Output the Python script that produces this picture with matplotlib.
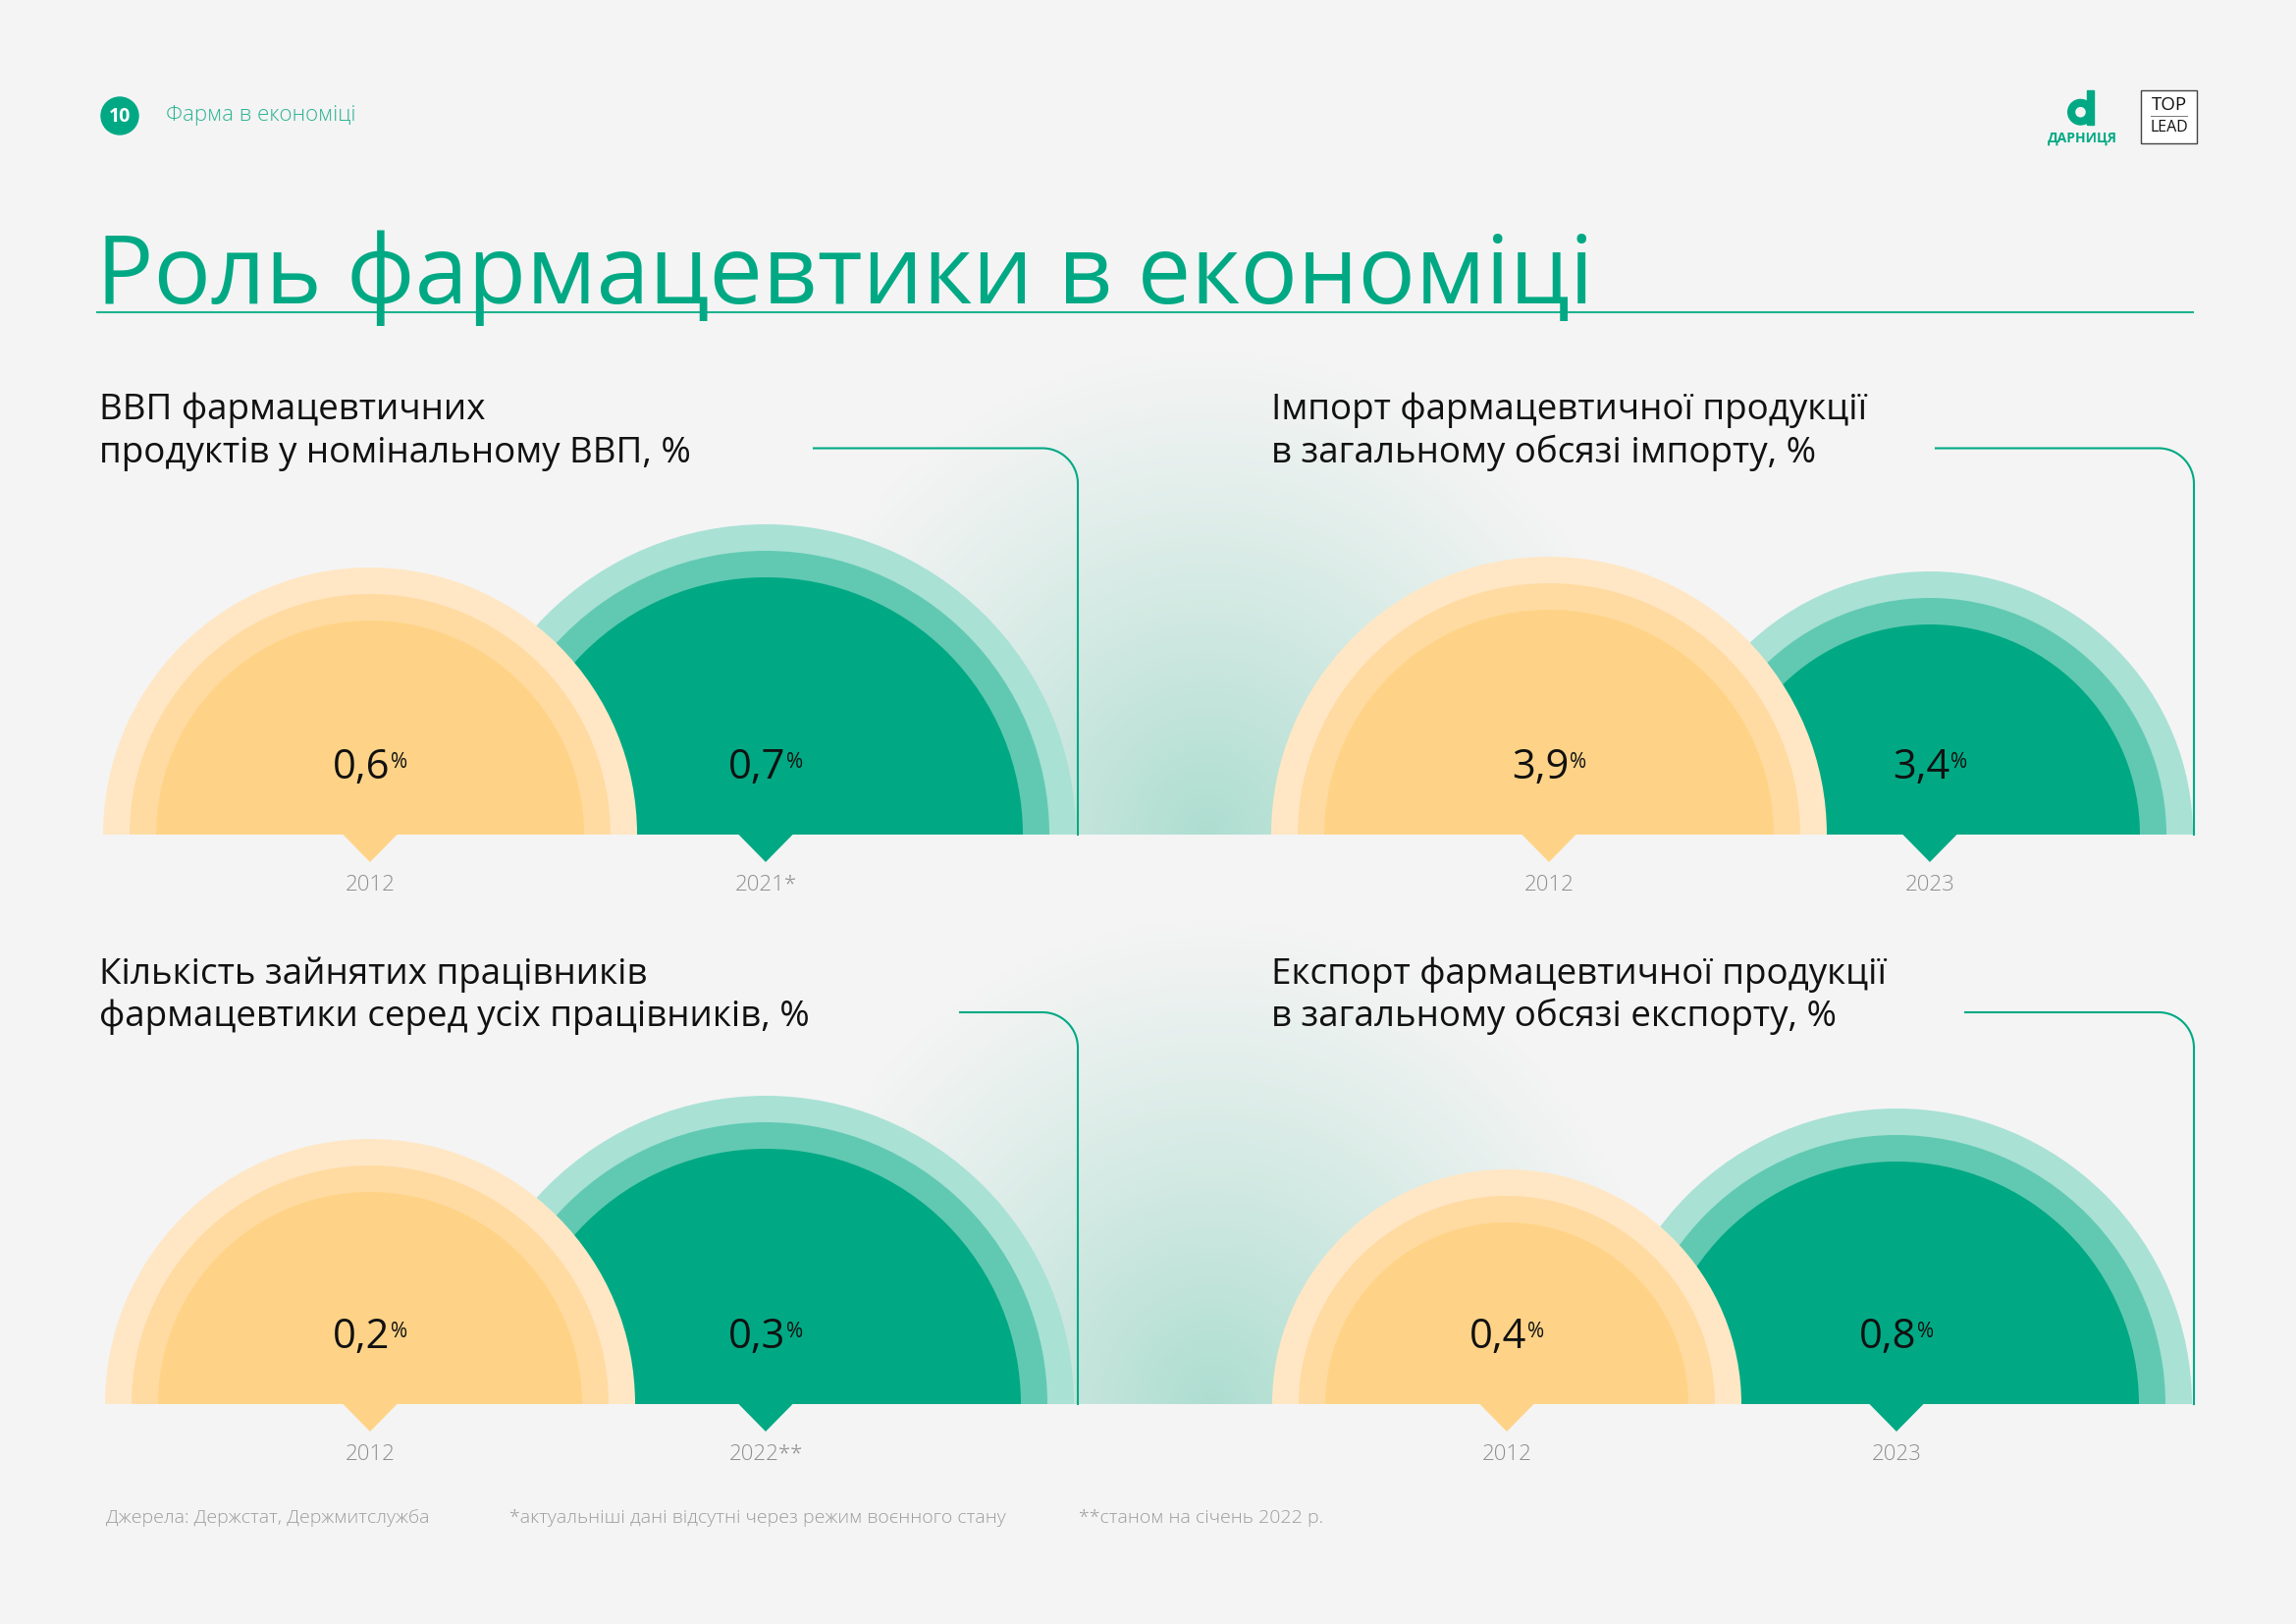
import numpy as np
import matplotlib
matplotlib.use("Agg")
import matplotlib.pyplot as plt
from matplotlib.patches import Wedge, Polygon, Circle, Rectangle

# ---------------- data ----------------
page_number = "10"
section_label = "Фарма в економіці"
main_title = "Роль фармацевтики в економіці"
panel_titles = [
    ["ВВП фармацевтичних", "продуктів у номінальному ВВП, %"],
    ["Імпорт фармацевтичної продукції", "в загальному обсязі імпорту, %"],
    ["Кількість зайнятих працівників", "фармацевтики серед усіх працівників, %"],
    ["Експорт фармацевтичної продукції", "в загальному обсязі експорту, %"],
]
years = [["2012", "2021*"], ["2012", "2023"], ["2012", "2022**"], ["2012", "2023"]]
values = [[0.6, 0.7], [3.9, 3.4], [0.2, 0.3], [0.4, 0.8]]
footnotes = ["Джерела: Держстат, Держмитслужба",
             "*актуальніші дані відсутні через режим воєнного стану",
             "**станом на січень 2022 р."]
brand_name = "ДАРНИЦЯ"
partner = ["TOP", "LEAD"]

# ---------------- layout / style ----------------
W, H = 2339, 1654
BG = "#F4F4F4"
GREEN = "#00A984"
YELLOWS = ["#FFE7C5", "#FFDBA2", "#FFD387"]   # outer, middle, inner
GREENS = ["#A9E1D5", "#61C9B2", "#00A984"]
RING = 27
FONT = ["Open Sans", "DejaVu Sans"]

panels = [
    dict(base=850, cx=(377, 780), r=(272, 316), tx=101, tb=427, fx0=829, fx1=1098, fy=456.5),
    dict(base=850, cx=(1578, 1966), r=(283, 268), tx=1295, tb=427, fx0=1972, fx1=2235, fy=456.5),
    dict(base=1430, cx=(377, 780), r=(270, 314), tx=101, tb=1002, fx0=978, fx1=1098, fy=1031),
    dict(base=1430, cx=(1535, 1932), r=(239, 301), tx=1295, tb=1002, fx0=2002, fx1=2235, fy=1031),
]
glows = [(1230, 850), (1235, 1430)]

plt.rcParams['font.family'] = FONT

fig = plt.figure(figsize=(W / 100, H / 100), dpi=100, facecolor=BG)
ax = fig.add_axes([0, 0, 1, 1])
ax.set_facecolor(BG)
ax.axis('off')
ax.set_xlim(0, W)
ax.set_ylim(H, 0)

# soft glow
glow_rgb = np.array([0.55, 0.83, 0.75])
for gx, gy in glows:
    rx, ry = 470, 500
    xs = np.linspace(gx - rx, gx + rx, 300)
    ys = np.linspace(gy - ry, gy, 200)
    X, Y = np.meshgrid(xs, ys)
    d = np.sqrt(((X - gx) / rx) ** 2 + ((Y - gy) / ry) ** 2)
    a = np.clip(1 - d, 0, 1) ** 1.15 * 0.68
    img = np.zeros(X.shape + (4,))
    img[..., :3] = glow_rgb
    img[..., 3] = a
    ax.imshow(img, extent=(gx - rx, gx + rx, gy, gy - ry), origin='upper',
              interpolation='bilinear', zorder=0.5)

# header
ax.add_patch(Circle((122, 118), 19, color=GREEN, zorder=5))
ax.text(122, 119, page_number, color='white', fontsize=14, fontweight='bold',
        ha='center', va='center', zorder=6)
ax.text(169, 118, section_label, color='#2DB493', fontsize=16, fontweight='light',
        ha='left', va='center')

# brand logo (d)
ax.add_patch(Wedge((2119.5, 114.2), 12.8, 0, 360, width=6.8, color=GREEN))
ax.add_patch(Rectangle((2126, 91.7), 7.4, 35.3, color=GREEN))
ax.text(2121, 141, brand_name, color=GREEN, fontsize=10, fontweight='bold',
        ha='center', va='center')
# partner box
ax.add_patch(Rectangle((2180.5, 91.5), 57.5, 54, facecolor='white', edgecolor='#444444', lw=1.0))
ax.text(2209.5, 106.5, partner[0], fontsize=13.5, ha='center', va='center', color='#111111')
ax.plot([2191, 2228], [117.5, 117.5], color='#777777', lw=0.7)
ax.text(2209.5, 130, partner[1], fontsize=11.5, ha='center', va='center', color='#111111')

# main title
ax.text(98, 309, main_title, color=GREEN, fontsize=70, fontweight='normal',
        ha='left', va='baseline')
ax.plot([98, 2235], [318, 318], color='#1DB38F', lw=1.5, solid_capstyle='butt')

renderer = fig.canvas.get_renderer()


def value_label(cx, ybase, txt):
    t1 = ax.text(0, ybase, txt, fontsize=30, ha='left', va='baseline', color='#111111', zorder=6)
    t2 = ax.text(0, ybase - 11, '%', fontsize=15, ha='left', va='baseline', color='#111111', zorder=6)
    w1 = t1.get_window_extent(renderer).width
    w2 = t2.get_window_extent(renderer).width
    gap = 1
    x0 = cx - (w1 + gap + w2) / 2
    t1.set_x(x0)
    t2.set_x(x0 + w1 + gap)


for p, titles, yrs, vals in zip(panels, panel_titles, years, values):
    base = p['base']
    # titles
    for i, line in enumerate(titles):
        ax.text(p['tx'], p['tb'] + 43.5 * i, line, fontsize=26.5, color='#111111',
                ha='left', va='baseline')
    # frame line
    rc = 36
    th = np.linspace(-np.pi / 2, 0, 30)
    fx = [p['fx0']] + list(p['fx1'] - rc + rc * np.cos(th)) + [p['fx1']]
    fy = [p['fy']] + list(p['fy'] + rc + rc * np.sin(th)) + [base]
    ax.plot(fx, fy, color=GREEN, lw=1.5, zorder=1)
    # semicircles: green (second) behind yellow (first)
    for k in [1, 0]:
        cols = YELLOWS if k == 0 else GREENS
        z = 3 if k == 0 else 2
        cx, R = p['cx'][k], p['r'][k]
        for j, c in enumerate(cols):
            ax.add_patch(Wedge((cx, base), R - j * RING, 180, 360, facecolor=c,
                               edgecolor='none', zorder=z))
        # pointer
        ax.add_patch(Polygon([(cx - 28, base - 0.5), (cx + 28, base - 0.5), (cx, base + 28)],
                             closed=True, facecolor=cols[2], edgecolor='none', zorder=z))
        value_label(cx, base - 57, f"{vals[k]:.1f}".replace('.', ','))
        ax.text(cx, base + 57, yrs[k], fontsize=16, fontweight='light', color='#8E8E8E',
                ha='center', va='baseline')

# footnotes
for x, t in zip([108, 519, 1099], footnotes):
    ax.text(x, 1551, t, fontsize=14, fontweight='light', color='#9C9C9C',
            ha='left', va='baseline')

ax.set_aspect('auto')
ax.set_xlim(0, W)
ax.set_ylim(H, 0)
fig.savefig("out.png", dpi=100, facecolor=BG)
